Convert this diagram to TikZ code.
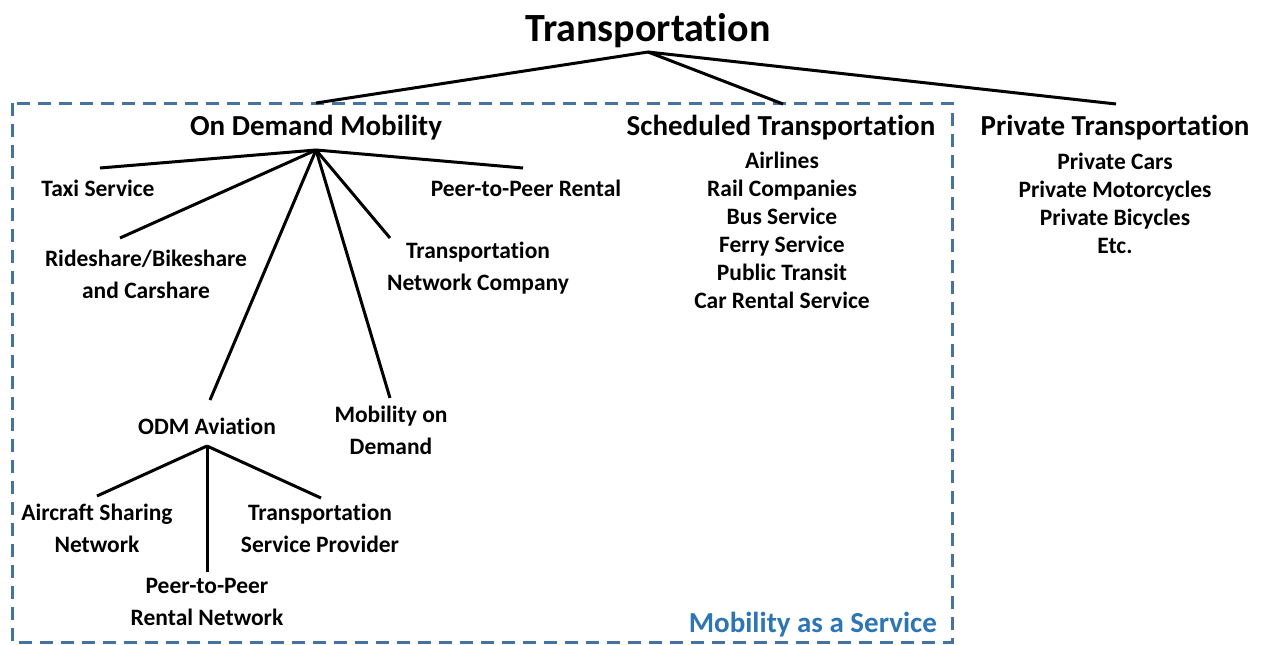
\documentclass[tikz,border=0pt]{standalone}
\usepackage{fontspec}
\setmainfont{Carlito}[Ligatures={NoCommon}]
\begin{document}
\begin{tikzpicture}[x=1pt,y=-1pt,
  conn/.style={line width=3pt,black},
  big/.style={font=\bfseries\fontsize{40}{44}\selectfont,inner sep=0pt},
  head/.style={font=\bfseries\fontsize{29}{32}\selectfont,inner sep=0pt},
  item/.style={font=\bfseries\fontsize{23.5}{28}\selectfont,inner sep=0pt,align=center},
  listitem/.style={font=\bfseries\fontsize{23.5}{28}\selectfont,inner sep=0pt,text height=17pt,text depth=5pt},
  maasbox/.style={draw=maasblue,line width=3pt,dash pattern=on 13pt off 8pt},
]
\definecolor{maasblue}{RGB}{70,114,162}
\definecolor{maastext}{RGB}{46,117,182}
\useasboundingbox (0,0) rectangle (1261,645);
\fill[white] (0,0) rectangle (1261,645);
\draw[maasbox] (12,103) rectangle (952,642);
\node[font=\bfseries\fontsize{29}{32}\selectfont,text=maastext,anchor=east,inner sep=0pt] (maas) at (937,625) {Mobility as a Service};

\node[big] (top) at (648,31) {Transportation};
\coordinate (topc) at (648,52);
\node[head] (odm) at (316,128) {On Demand Mobility};
\node[head] (sched) at (781,128) {Scheduled Transportation};
\node[head] (priv) at (1115,128) {Private Transportation};
\coordinate (odmt) at (316,103);
\coordinate (schedt) at (783,104);
\coordinate (privt) at (1116,104);
\draw[conn] (topc) -- (odmt);
\draw[conn] (topc) -- (schedt);
\draw[conn] (topc) -- (privt);

% On Demand Mobility children
\coordinate (odmc) at (316,150);
\node[item] (taxi) at (98,188) {Taxi Service};
\node[item] (ride) at (146,274) {Rideshare/Bikeshare\\[4pt]and Carshare};
\node[item] (tnc) at (478,268) {Transportation\\[4pt]Network Company};
\node[item] (p2p) at (526,188) {Peer-to-Peer Rental};
\node[item] (odma) at (207,426) {ODM Aviation};
\node[item] (mod) at (391,430) {Mobility on\\[4pt]Demand};
\coordinate (taxit) at (100,168);
\coordinate (ridet) at (120,238);
\coordinate (tnct) at (390,238);
\coordinate (p2pt) at (523,168);
\coordinate (odmat) at (210,400);
\coordinate (modt) at (390,398);
\draw[conn] (odmc) -- (taxit);
\draw[conn] (odmc) -- (ridet);
\draw[conn] (odmc) -- (odmat);
\draw[conn] (odmc) -- (modt);
\draw[conn] (odmc) -- (tnct);
\draw[conn] (odmc) -- (p2pt);

% ODM Aviation children
\coordinate (odmac) at (207,446);
\node[item] (acs) at (97,528) {Aircraft Sharing\\[4pt]Network};
\node[item] (tsp) at (320,528) {Transportation\\[4pt]Service Provider};
\node[item] (p2pn) at (207,602) {Peer-to-Peer\\[4pt]Rental Network};
\coordinate (acst) at (97,496);
\coordinate (tspt) at (321,498);
\coordinate (p2pnt) at (207,572);
\draw[conn] (odmac) -- (acst);
\draw[conn] (odmac) -- (tspt);
\draw[conn] (odmac) -- (p2pnt);

% Scheduled list
\node[listitem] (s1) at (782,162) {Airlines};
\node[listitem] (s2) at (782,190) {Rail Companies};
\node[listitem] (s3) at (782,218) {Bus Service};
\node[listitem] (s4) at (782,246) {Ferry Service};
\node[listitem] (s5) at (782,274) {Public Transit};
\node[listitem] (s6) at (782,302) {Car Rental Service};

% Private list
\node[listitem] (p1) at (1115,163) {Private Cars};
\node[listitem] (p2) at (1115,191) {Private Motorcycles};
\node[listitem] (p3) at (1115,219) {Private Bicycles};
\node[listitem] (p4) at (1115,247) {Etc.};
\end{tikzpicture}
\end{document}
